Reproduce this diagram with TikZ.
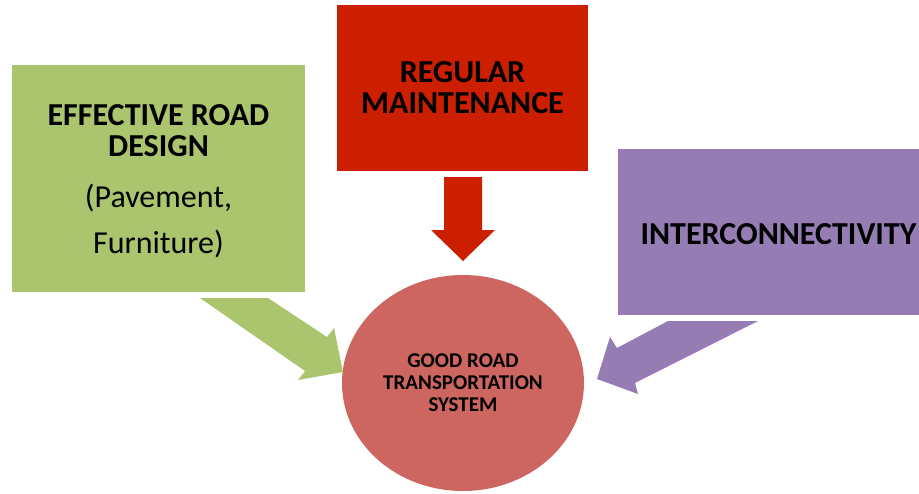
\documentclass[tikz,border=0pt]{standalone}
\usepackage{fontspec}
\setmainfont{Carlito}
\usetikzlibrary{shapes.geometric}
\definecolor{designgreen}{HTML}{ABC56E}
\definecolor{maintred}{HTML}{CC1F00}
\definecolor{linkpurple}{HTML}{957DB3}
\definecolor{goalred}{HTML}{CD6560}
\tikzset{
  factor/.style={rectangle, inner sep=0pt, align=center, font=\fontsize{32}{31}\selectfont\bfseries},
  goal/.style={ellipse, fill=goalred, inner sep=0pt, minimum width=242pt, minimum height=216pt,
    align=center, font=\fontsize{21}{22}\selectfont\bfseries}
}
\begin{document}
\begin{tikzpicture}[x=1pt,y=-1pt, line join=miter]
\useasboundingbox (0,0) rectangle (919,493);
\node[factor, fill=designgreen, minimum width=293pt, minimum height=227pt] (design) at (158.5,178.5)
  {\rule{0pt}{26pt}EFFECTIVE ROAD\\DESIGN\\[20pt]\mdseries(Pavement,\\[15pt]\mdseries Furniture)};
\node[factor, fill=maintred, minimum width=251pt, minimum height=166pt] (maint) at (462.5,88)
  {REGULAR\\MAINTENANCE};
\node[factor, fill=linkpurple, minimum width=301pt, minimum height=166pt] (inter) at (768.5,232) {};
\node[factor] (intertext) at ([xshift=10pt,yshift=-2pt]inter.center) {INTERCONNECTIVITY};
\node[goal] (goal) at (463,383) {GOOD ROAD\\TRANSPORTATION\\SYSTEM};
% block arrows
\fill[designgreen] (200,298)--(268,298)--(327,337)--(334,328)--(343,372)--(298,380)--(305,371)--cycle;
\fill[maintred] (444,177)--(482,177)--(482,230)--(495,230)--(463,261)--(431,230)--(444,230)--cycle;
\fill[linkpurple] (668,321)--(758,321)--(635,383)--(638,394)--(597,379)--(610,337)--(617,348)--cycle;
\end{tikzpicture}
\end{document}
